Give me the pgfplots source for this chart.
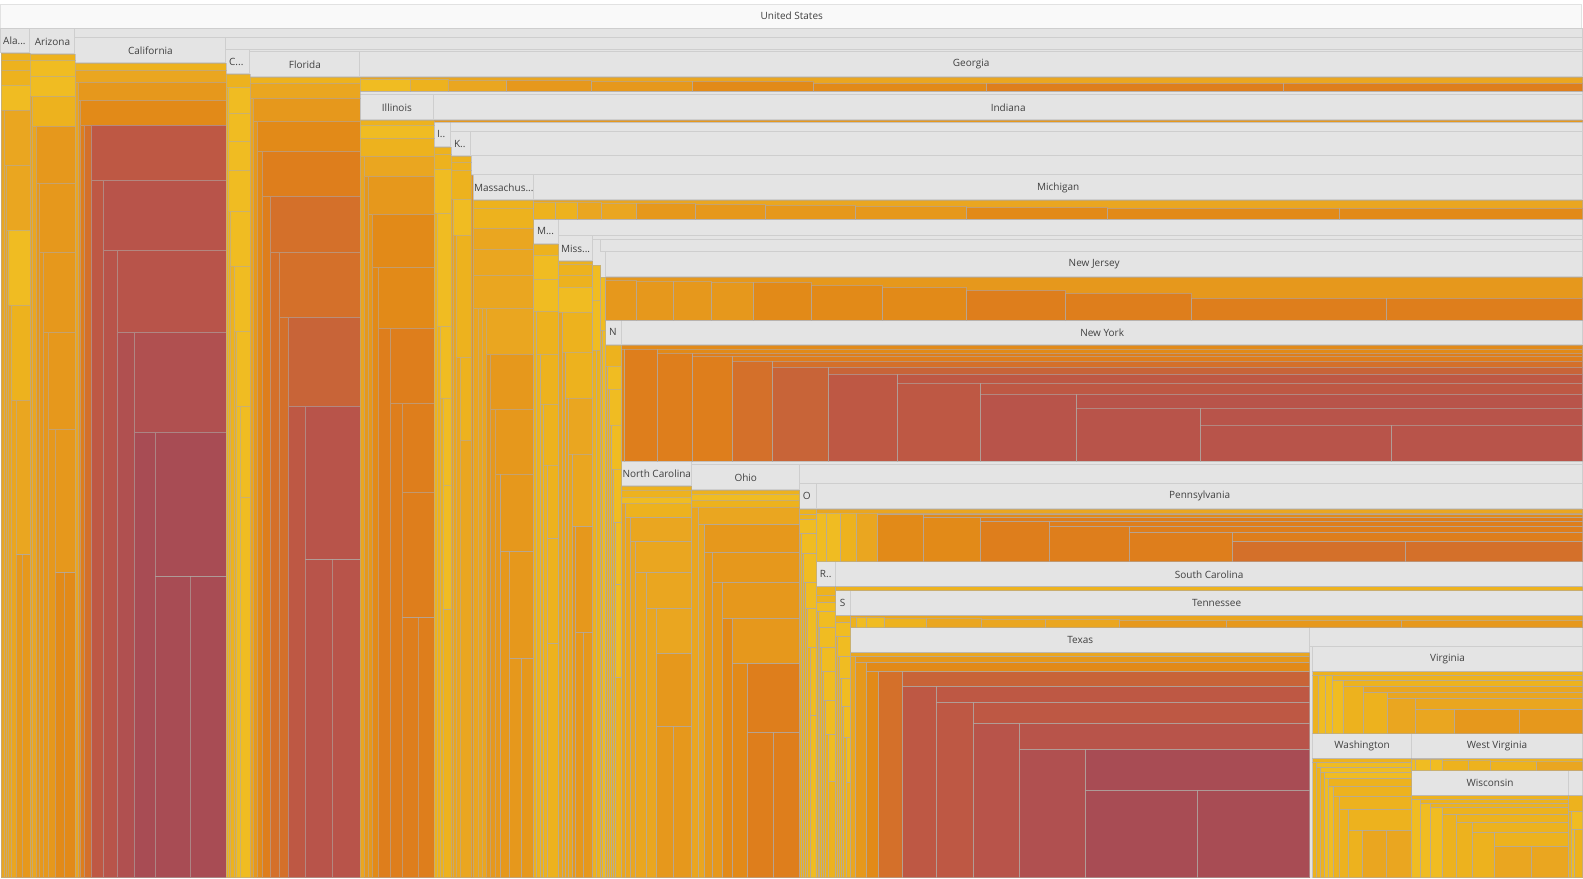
\documentclass[border=0pt]{standalone}
\usepackage{pgfplots}
\pgfplotsset{compat=1.18}
\usepackage{fontspec}
\setmainfont{Open Sans}
\definecolor{cya}{RGB}{240,188,34}
\definecolor{cyb}{RGB}{237,178,30}
\definecolor{cyc}{RGB}{234,166,32}
\definecolor{coa}{RGB}{230,152,28}
\definecolor{cob}{RGB}{226,138,24}
\definecolor{coc}{RGB}{222,126,28}
\definecolor{cra}{RGB}{212,112,42}
\definecolor{crb}{RGB}{200,100,56}
\definecolor{crc}{RGB}{190,88,68}
\definecolor{crd}{RGB}{184,84,74}
\definecolor{cre}{RGB}{176,80,80}
\definecolor{crf}{RGB}{168,76,84}
\definecolor{chd}{RGB}{228,228,228}
\definecolor{chl}{RGB}{206,206,206}
\definecolor{ctop}{RGB}{249,249,249}
\definecolor{ctx}{RGB}{64,64,64}
\definecolor{cedge}{RGB}{176,170,165}
\tikzset{lbl/.style={font=\fontsize{10}{12}\selectfont, text=ctx, inner sep=0pt}}
\pgfplotsset{
 edg/.style={draw=cedge, draw opacity=0.6, line width=0.7pt},
 ya/.style={edg, fill=cya}, yb/.style={edg, fill=cyb}, yc/.style={edg, fill=cyc},
 oa/.style={edg, fill=coa}, ob/.style={edg, fill=cob}, oc/.style={edg, fill=coc},
 ra/.style={edg, fill=cra}, rb/.style={edg, fill=crb}, rc/.style={edg, fill=crc},
 rd/.style={edg, fill=crd}, re/.style={edg, fill=cre}, rf/.style={edg, fill=crf},
 hd/.style={fill=chd, draw=chl, line width=1pt},
}
\begin{document}
\begin{tikzpicture}
\begin{axis}[width=1583pt, height=879pt, scale only axis, xmin=0, xmax=1583, ymin=0, ymax=879,
  y dir=reverse, hide axis, clip=false]
% frame of the picture
\addplot[draw=none, fill=none] coordinates {(0,0) (1583,0) (1583,879) (0,879)} --cycle;
% backgrounds
\addplot[fill=ctop, draw={rgb,255:red,226;green,226;blue,226}, line width=1pt] coordinates {(1,4) (1582,4) (1582,29) (1,29)} --cycle;
\addplot[fill=chd, draw=none] coordinates {(1,29) (1583,29) (1583,878) (1,878)} --cycle;
% headers and bands
\addplot[hd] coordinates {(1,29) (30,29) (30,53) (1,53)} --cycle;
\addplot[hd] coordinates {(30,29) (75,29) (75,54) (30,54)} --cycle;
\addplot[hd] coordinates {(75,29) (1583,29) (1583,38) (75,38)} --cycle;
\addplot[hd] coordinates {(75,38) (226,38) (226,63) (75,63)} --cycle;
\addplot[hd] coordinates {(226,38) (1583,38) (1583,49.5) (226,49.5)} --cycle;
\addplot[hd] coordinates {(226,49.5) (250,49.5) (250,74) (226,74)} --cycle;
\addplot[hd] coordinates {(250,49.5) (1583,49.5) (1583,52) (250,52)} --cycle;
\addplot[hd] coordinates {(250,52) (360,52) (360,77) (250,77)} --cycle;
\addplot[hd] coordinates {(360,52) (1583,52) (1583,77) (360,77)} --cycle;
\addplot[hd] coordinates {(360,91) (1583,91) (1583,95) (360,95)} --cycle;
\addplot[hd] coordinates {(360,95) (434,95) (434,120) (360,120)} --cycle;
\addplot[hd] coordinates {(434,95) (1583,95) (1583,120) (434,120)} --cycle;
\addplot[hd] coordinates {(434,122) (451,122) (451,147) (434,147)} --cycle;
\addplot[hd] coordinates {(451,122) (1583,122) (1583,131.5) (451,131.5)} --cycle;
\addplot[hd] coordinates {(451,131.5) (471,131.5) (471,156) (451,156)} --cycle;
\addplot[hd] coordinates {(471,131.5) (1583,131.5) (1583,156) (471,156)} --cycle;
\addplot[hd] coordinates {(471,156) (1583,156) (1583,175) (471,175)} --cycle;
\addplot[hd] coordinates {(473,175) (534,175) (534,200) (473,200)} --cycle;
\addplot[hd] coordinates {(534,175) (1583,175) (1583,200) (534,200)} --cycle;
\addplot[hd] coordinates {(534,219) (559,219) (559,244) (534,244)} --cycle;
\addplot[hd] coordinates {(559,219) (1583,219) (1583,236) (559,236)} --cycle;
\addplot[hd] coordinates {(559,236) (593,236) (593,261) (559,261)} --cycle;
\addplot[hd] coordinates {(593,236) (1583,236) (1583,240) (593,240)} --cycle;
\addplot[hd] coordinates {(601,240) (1583,240) (1583,252) (601,252)} --cycle;
\addplot[hd] coordinates {(606,252) (1583,252) (1583,277) (606,277)} --cycle;
\addplot[hd] coordinates {(606,320) (622,320) (622,345) (606,345)} --cycle;
\addplot[hd] coordinates {(622,320) (1583,320) (1583,345) (622,345)} --cycle;
\addplot[hd] coordinates {(622,461) (692,461) (692,486) (622,486)} --cycle;
\addplot[hd] coordinates {(692,461) (1583,461) (1583,465) (692,465)} --cycle;
\addplot[hd] coordinates {(692,465) (800,465) (800,490) (692,490)} --cycle;
\addplot[hd] coordinates {(800,465) (1583,465) (1583,484) (800,484)} --cycle;
\addplot[hd] coordinates {(800,484) (817,484) (817,509) (800,509)} --cycle;
\addplot[hd] coordinates {(817,484) (1583,484) (1583,509) (817,509)} --cycle;
\addplot[hd] coordinates {(817,562) (836,562) (836,587) (817,587)} --cycle;
\addplot[hd] coordinates {(836,562) (1583,562) (1583,587) (836,587)} --cycle;
\addplot[hd] coordinates {(836,591) (851,591) (851,616) (836,616)} --cycle;
\addplot[hd] coordinates {(851,591) (1583,591) (1583,616) (851,616)} --cycle;
\addplot[hd] coordinates {(851,628) (1310,628) (1310,653) (851,653)} --cycle;
\addplot[hd] coordinates {(1310,628) (1583,628) (1583,647) (1310,647)} --cycle;
\addplot[hd] coordinates {(1313,647) (1583,647) (1583,672) (1313,672)} --cycle;
\addplot[hd] coordinates {(1313,734) (1412,734) (1412,759) (1313,759)} --cycle;
\addplot[hd] coordinates {(1412,734) (1583,734) (1583,759) (1412,759)} --cycle;
\addplot[hd] coordinates {(1412,771) (1569,771) (1569,796) (1412,796)} --cycle;
\addplot[hd] coordinates {(1569,771) (1583,771) (1583,796) (1569,796)} --cycle;
% Alabama
\addplot[yb] coordinates {(1,53) (30,53) (30,60) (1,60)} --cycle;
\addplot[yb] coordinates {(1,60) (30,60) (30,70) (1,70)} --cycle;
\addplot[yb] coordinates {(1,70) (30,70) (30,85) (1,85)} --cycle;
\addplot[ya] coordinates {(1,85) (30,85) (30,110) (1,110)} --cycle;
\addplot[yc] coordinates {(1,110) (4,110) (4,878) (1,878)} --cycle;
\addplot[yc] coordinates {(4,110) (30,110) (30,165) (4,165)} --cycle;
\addplot[yc] coordinates {(4,165) (6,165) (6,878) (4,878)} --cycle;
\addplot[yc] coordinates {(6,165) (30,165) (30,230) (6,230)} --cycle;
\addplot[yc] coordinates {(6,230) (8,230) (8,878) (6,878)} --cycle;
\addplot[ya] coordinates {(8,230) (30,230) (30,305) (8,305)} --cycle;
\addplot[yc] coordinates {(8,305) (11,305) (11,878) (8,878)} --cycle;
\addplot[yb] coordinates {(11,305) (30,305) (30,400) (11,400)} --cycle;
\addplot[yc] coordinates {(11,400) (16,400) (16,878) (11,878)} --cycle;
\addplot[yc] coordinates {(16,400) (30,400) (30,555) (16,555)} --cycle;
\addplot[oa] coordinates {(16,555) (22,555) (22,878) (16,878)} --cycle;
\addplot[oa] coordinates {(22,555) (30,555) (30,878) (22,878)} --cycle;
% Arizona
\addplot[yb] coordinates {(30,54) (75,54) (75,60) (30,60)} --cycle;
\addplot[ya] coordinates {(30,60) (75,60) (75,76) (30,76)} --cycle;
\addplot[ya] coordinates {(30,76) (75,76) (75,96) (30,96)} --cycle;
\addplot[yc] coordinates {(30,96) (32,96) (32,878) (30,878)} --cycle;
\addplot[yb] coordinates {(32,96) (75,96) (75,126) (32,126)} --cycle;
\addplot[yc] coordinates {(32,126) (36,126) (36,878) (32,878)} --cycle;
\addplot[oa] coordinates {(36,126) (75,126) (75,183) (36,183)} --cycle;
\addplot[oa] coordinates {(36,183) (39,183) (39,878) (36,878)} --cycle;
\addplot[oa] coordinates {(39,183) (75,183) (75,252) (39,252)} --cycle;
\addplot[oa] coordinates {(39,252) (43,252) (43,878) (39,878)} --cycle;
\addplot[oa] coordinates {(43,252) (75,252) (75,332) (43,332)} --cycle;
\addplot[oa] coordinates {(43,332) (48,332) (48,878) (43,878)} --cycle;
\addplot[oa] coordinates {(48,332) (75,332) (75,429) (48,429)} --cycle;
\addplot[oa] coordinates {(48,429) (55,429) (55,878) (48,878)} --cycle;
\addplot[oa] coordinates {(55,429) (75,429) (75,573) (55,573)} --cycle;
\addplot[ob] coordinates {(55,573) (64,573) (64,878) (55,878)} --cycle;
\addplot[ob] coordinates {(64,573) (75,573) (75,878) (64,878)} --cycle;
% California
\addplot[yb] coordinates {(75,63) (226,63) (226,70) (75,70)} --cycle;
\addplot[yc] coordinates {(75,70) (226,70) (226,82) (75,82)} --cycle;
\addplot[yc] coordinates {(75,82) (78,82) (78,878) (75,878)} --cycle;
\addplot[oa] coordinates {(78,82) (226,82) (226,100) (78,100)} --cycle;
\addplot[oa] coordinates {(78,100) (80,100) (80,878) (78,878)} --cycle;
\addplot[ob] coordinates {(80,100) (226,100) (226,125) (80,125)} --cycle;
\addplot[oc] coordinates {(80,125) (84,125) (84,878) (80,878)} --cycle;
\addplot[ra] coordinates {(84,125) (91,125) (91,878) (84,878)} --cycle;
\addplot[rc] coordinates {(91,125) (226,125) (226,180) (91,180)} --cycle;
\addplot[rc] coordinates {(91,180) (103,180) (103,878) (91,878)} --cycle;
\addplot[rd] coordinates {(103,180) (226,180) (226,250) (103,250)} --cycle;
\addplot[rd] coordinates {(103,250) (117,250) (117,878) (103,878)} --cycle;
\addplot[rd] coordinates {(117,250) (226,250) (226,332) (117,332)} --cycle;
\addplot[re] coordinates {(117,332) (134,332) (134,878) (117,878)} --cycle;
\addplot[re] coordinates {(134,332) (226,332) (226,432) (134,432)} --cycle;
\addplot[rf] coordinates {(134,432) (155,432) (155,878) (134,878)} --cycle;
\addplot[rf] coordinates {(155,432) (226,432) (226,577) (155,577)} --cycle;
\addplot[rf] coordinates {(155,577) (190,577) (190,878) (155,878)} --cycle;
\addplot[rf] coordinates {(190,577) (226,577) (226,878) (190,878)} --cycle;
% C...
\addplot[yb] coordinates {(226,74) (250,74) (250,87) (226,87)} --cycle;
\addplot[yb] coordinates {(226,87) (228,87) (228,878) (226,878)} --cycle;
\addplot[ya] coordinates {(228,87) (250,87) (250,113) (228,113)} --cycle;
\addplot[ya] coordinates {(228,113) (250,113) (250,141) (228,141)} --cycle;
\addplot[ya] coordinates {(228,141) (250,141) (250,170) (228,170)} --cycle;
\addplot[ya] coordinates {(228,170) (250,170) (250,211) (228,211)} --cycle;
\addplot[yb] coordinates {(228,211) (230,211) (230,878) (228,878)} --cycle;
\addplot[ya] coordinates {(230,211) (250,211) (250,266) (230,266)} --cycle;
\addplot[yb] coordinates {(230,266) (234,266) (234,878) (230,878)} --cycle;
\addplot[ya] coordinates {(234,266) (250,266) (250,331) (234,331)} --cycle;
\addplot[yb] coordinates {(234,331) (236,331) (236,878) (234,878)} --cycle;
\addplot[ya] coordinates {(236,331) (250,331) (250,406) (236,406)} --cycle;
\addplot[ya] coordinates {(236,406) (240,406) (240,878) (236,878)} --cycle;
\addplot[ya] coordinates {(240,406) (250,406) (250,497) (240,497)} --cycle;
\addplot[ya] coordinates {(240,497) (250,497) (250,878) (240,878)} --cycle;
% Florida
\addplot[yb] coordinates {(250,77) (360,77) (360,83) (250,83)} --cycle;
\addplot[yc] coordinates {(250,83) (360,83) (360,98) (250,98)} --cycle;
\addplot[yc] coordinates {(250,98) (253,98) (253,878) (250,878)} --cycle;
\addplot[oa] coordinates {(253,98) (360,98) (360,121) (253,121)} --cycle;
\addplot[oa] coordinates {(253,121) (257,121) (257,878) (253,878)} --cycle;
\addplot[ob] coordinates {(257,121) (360,121) (360,151) (257,151)} --cycle;
\addplot[ob] coordinates {(257,151) (262,151) (262,878) (257,878)} --cycle;
\addplot[oc] coordinates {(262,151) (360,151) (360,196) (262,196)} --cycle;
\addplot[oc] coordinates {(262,196) (270,196) (270,878) (262,878)} --cycle;
\addplot[ra] coordinates {(270,196) (360,196) (360,252) (270,252)} --cycle;
\addplot[ra] coordinates {(270,252) (279,252) (279,878) (270,878)} --cycle;
\addplot[ra] coordinates {(279,252) (360,252) (360,317) (279,317)} --cycle;
\addplot[ra] coordinates {(279,317) (288,317) (288,878) (279,878)} --cycle;
\addplot[rb] coordinates {(288,317) (360,317) (360,406) (288,406)} --cycle;
\addplot[rc] coordinates {(288,406) (305,406) (305,878) (288,878)} --cycle;
\addplot[rd] coordinates {(305,406) (360,406) (360,560) (305,560)} --cycle;
\addplot[rd] coordinates {(305,560) (332,560) (332,878) (305,878)} --cycle;
\addplot[rd] coordinates {(332,560) (360,560) (360,878) (332,878)} --cycle;
% Georgia
\addplot[yc] coordinates {(360,77) (1583,77) (1583,91) (360,91)} --cycle;
\addplot[ya] coordinates {(360,79) (410,79) (410,91) (360,91)} --cycle;
\addplot[yb] coordinates {(410,79) (448,79) (448,91) (410,91)} --cycle;
\addplot[yc] coordinates {(448,80) (507,80) (507,91) (448,91)} --cycle;
\addplot[oa] coordinates {(507,80) (592,80) (592,91) (507,91)} --cycle;
\addplot[oa] coordinates {(592,81) (693,81) (693,91) (592,91)} --cycle;
\addplot[ob] coordinates {(693,81) (814,81) (814,91) (693,91)} --cycle;
\addplot[ob] coordinates {(814,83) (987,83) (987,91) (814,91)} --cycle;
\addplot[oc] coordinates {(987,83) (1284,83) (1284,91) (987,91)} --cycle;
\addplot[oc] coordinates {(1284,83) (1583,83) (1583,91) (1284,91)} --cycle;
% Illinois
\addplot[yb] coordinates {(360,120) (434,120) (434,125) (360,125)} --cycle;
\addplot[ya] coordinates {(360,125) (434,125) (434,138) (360,138)} --cycle;
\addplot[yb] coordinates {(360,138) (434,138) (434,156) (360,156)} --cycle;
\addplot[yc] coordinates {(360,156) (364,156) (364,878) (360,878)} --cycle;
\addplot[yc] coordinates {(364,156) (434,156) (434,176) (364,176)} --cycle;
\addplot[oa] coordinates {(364,176) (368,176) (368,878) (364,878)} --cycle;
\addplot[oa] coordinates {(368,176) (434,176) (434,214) (368,214)} --cycle;
\addplot[oa] coordinates {(368,214) (372,214) (372,878) (368,878)} --cycle;
\addplot[ob] coordinates {(372,214) (434,214) (434,267) (372,267)} --cycle;
\addplot[ob] coordinates {(372,267) (378,267) (378,878) (372,878)} --cycle;
\addplot[ob] coordinates {(378,267) (434,267) (434,328) (378,328)} --cycle;
\addplot[oc] coordinates {(378,328) (390,328) (390,878) (378,878)} --cycle;
\addplot[oc] coordinates {(390,328) (434,328) (434,403) (390,403)} --cycle;
\addplot[oc] coordinates {(390,403) (402,403) (402,878) (390,878)} --cycle;
\addplot[oc] coordinates {(402,403) (434,403) (434,492) (402,492)} --cycle;
\addplot[oc] coordinates {(402,492) (434,492) (434,618) (402,618)} --cycle;
\addplot[oc] coordinates {(402,618) (418,618) (418,878) (402,878)} --cycle;
\addplot[oc] coordinates {(418,618) (434,618) (434,878) (418,878)} --cycle;
% Indiana
\addplot[oa] coordinates {(434,120) (1583,120) (1583,122) (434,122)} --cycle;
% I..
\addplot[yb] coordinates {(434,147) (451,147) (451,154) (434,154)} --cycle;
\addplot[yb] coordinates {(434,154) (451,154) (451,169) (434,169)} --cycle;
\addplot[ya] coordinates {(434,169) (451,169) (451,213) (434,213)} --cycle;
\addplot[yb] coordinates {(434,213) (437,213) (437,878) (434,878)} --cycle;
\addplot[ya] coordinates {(437,213) (451,213) (451,326) (437,326)} --cycle;
\addplot[yb] coordinates {(437,326) (440,326) (440,878) (437,878)} --cycle;
\addplot[ya] coordinates {(440,326) (451,326) (451,398) (440,398)} --cycle;
\addplot[yb] coordinates {(440,398) (443,398) (443,878) (440,878)} --cycle;
\addplot[ya] coordinates {(443,398) (451,398) (451,485) (443,485)} --cycle;
\addplot[ya] coordinates {(443,485) (451,485) (451,610) (443,610)} --cycle;
\addplot[yb] coordinates {(443,610) (451,610) (451,878) (443,878)} --cycle;
% K..
\addplot[yb] coordinates {(451,156) (471,156) (471,162) (451,162)} --cycle;
\addplot[yb] coordinates {(451,162) (471,162) (471,170) (451,170)} --cycle;
\addplot[yb] coordinates {(451,170) (471,170) (471,199) (451,199)} --cycle;
\addplot[yc] coordinates {(451,199) (453,199) (453,878) (451,878)} --cycle;
\addplot[ya] coordinates {(453,199) (471,199) (471,235) (453,235)} --cycle;
\addplot[yc] coordinates {(453,235) (456,235) (456,878) (453,878)} --cycle;
\addplot[yb] coordinates {(456,235) (471,235) (471,357) (456,357)} --cycle;
\addplot[yc] coordinates {(456,357) (460,357) (460,878) (456,878)} --cycle;
\addplot[yb] coordinates {(460,357) (471,357) (471,440) (460,440)} --cycle;
\addplot[yc] coordinates {(460,440) (471,440) (471,878) (460,878)} --cycle;
\addplot[oa] coordinates {(471,175) (473,175) (473,878) (471,878)} --cycle;
% Massachusetts
\addplot[yb] coordinates {(473,200) (534,200) (534,208) (473,208)} --cycle;
\addplot[yb] coordinates {(473,208) (534,208) (534,228) (473,228)} --cycle;
\addplot[yc] coordinates {(473,228) (534,228) (534,249) (473,249)} --cycle;
\addplot[yc] coordinates {(473,249) (534,249) (534,275) (473,275)} --cycle;
\addplot[yc] coordinates {(473,275) (534,275) (534,308) (473,308)} --cycle;
\addplot[yc] coordinates {(473,308) (478,308) (478,878) (473,878)} --cycle;
\addplot[yc] coordinates {(478,308) (482,308) (482,878) (478,878)} --cycle;
\addplot[yc] coordinates {(482,308) (486,308) (486,878) (482,878)} --cycle;
\addplot[yc] coordinates {(486,308) (534,308) (534,354) (486,354)} --cycle;
\addplot[oa] coordinates {(486,354) (490,354) (490,878) (486,878)} --cycle;
\addplot[oa] coordinates {(490,354) (534,354) (534,409) (490,409)} --cycle;
\addplot[oa] coordinates {(490,409) (495,409) (495,878) (490,878)} --cycle;
\addplot[oa] coordinates {(495,409) (534,409) (534,474) (495,474)} --cycle;
\addplot[oa] coordinates {(495,474) (501,474) (501,878) (495,878)} --cycle;
\addplot[oa] coordinates {(501,474) (534,474) (534,552) (501,552)} --cycle;
\addplot[oa] coordinates {(501,552) (510,552) (510,878) (501,878)} --cycle;
\addplot[oa] coordinates {(510,552) (534,552) (534,659) (510,659)} --cycle;
\addplot[oa] coordinates {(510,659) (522,659) (522,878) (510,878)} --cycle;
\addplot[oa] coordinates {(522,659) (534,659) (534,878) (522,878)} --cycle;
% Michigan
\addplot[yc] coordinates {(534,200) (1583,200) (1583,219) (534,219)} --cycle;
\addplot[yb] coordinates {(534,202) (556,202) (556,219) (534,219)} --cycle;
\addplot[yb] coordinates {(556,202) (578,202) (578,219) (556,219)} --cycle;
\addplot[yc] coordinates {(578,202) (602,202) (602,219) (578,219)} --cycle;
\addplot[yc] coordinates {(602,203) (637,203) (637,219) (602,219)} --cycle;
\addplot[oa] coordinates {(637,203) (696,203) (696,219) (637,219)} --cycle;
\addplot[oa] coordinates {(696,204) (766,204) (766,219) (696,219)} --cycle;
\addplot[oa] coordinates {(766,205) (856,205) (856,219) (766,219)} --cycle;
\addplot[oa] coordinates {(856,206) (967,206) (967,219) (856,219)} --cycle;
\addplot[ob] coordinates {(967,207) (1108,207) (1108,219) (967,219)} --cycle;
\addplot[ob] coordinates {(1108,208) (1340,208) (1340,219) (1108,219)} --cycle;
\addplot[ob] coordinates {(1340,208) (1583,208) (1583,219) (1340,219)} --cycle;
% M...
\addplot[yb] coordinates {(534,244) (559,244) (559,255) (534,255)} --cycle;
\addplot[ya] coordinates {(534,255) (559,255) (559,279) (534,279)} --cycle;
\addplot[ya] coordinates {(534,279) (559,279) (559,311) (534,311)} --cycle;
\addplot[yb] coordinates {(534,311) (537,311) (537,878) (534,878)} --cycle;
\addplot[yb] coordinates {(537,311) (559,311) (559,354) (537,354)} --cycle;
\addplot[yb] coordinates {(537,354) (541,354) (541,878) (537,878)} --cycle;
\addplot[yb] coordinates {(541,354) (559,354) (559,404) (541,404)} --cycle;
\addplot[yb] coordinates {(541,404) (544,404) (544,878) (541,878)} --cycle;
\addplot[yb] coordinates {(544,404) (559,404) (559,465) (544,465)} --cycle;
\addplot[yb] coordinates {(544,465) (548,465) (548,878) (544,878)} --cycle;
\addplot[yb] coordinates {(548,465) (559,465) (559,539) (548,539)} --cycle;
\addplot[yb] coordinates {(548,539) (559,539) (559,644) (548,644)} --cycle;
\addplot[yb] coordinates {(548,644) (559,644) (559,878) (548,878)} --cycle;
% Mississippi
\addplot[yb] coordinates {(559,261) (593,261) (593,264) (559,264)} --cycle;
\addplot[yb] coordinates {(559,264) (593,264) (593,275) (559,275)} --cycle;
\addplot[yb] coordinates {(559,275) (593,275) (593,287) (559,287)} --cycle;
\addplot[ya] coordinates {(559,287) (593,287) (593,312) (559,312)} --cycle;
\addplot[yc] coordinates {(559,312) (563,312) (563,878) (559,878)} --cycle;
\addplot[yb] coordinates {(563,312) (593,312) (593,352) (563,352)} --cycle;
\addplot[yc] coordinates {(563,352) (566,352) (566,878) (563,878)} --cycle;
\addplot[yb] coordinates {(566,352) (593,352) (593,398) (566,398)} --cycle;
\addplot[yc] coordinates {(566,398) (569,398) (569,878) (566,878)} --cycle;
\addplot[yc] coordinates {(569,398) (593,398) (593,454) (569,454)} --cycle;
\addplot[yc] coordinates {(569,454) (573,454) (573,878) (569,878)} --cycle;
\addplot[yc] coordinates {(573,454) (593,454) (593,527) (573,527)} --cycle;
\addplot[oa] coordinates {(573,527) (576,527) (576,878) (573,878)} --cycle;
\addplot[oa] coordinates {(576,527) (593,527) (593,633) (576,633)} --cycle;
\addplot[oa] coordinates {(576,633) (584,633) (584,878) (576,878)} --cycle;
\addplot[oa] coordinates {(584,633) (593,633) (593,878) (584,878)} --cycle;
% small states
\addplot[ya] coordinates {(593,265) (601,265) (601,300) (593,300)} --cycle;
\addplot[ya] coordinates {(593,300) (601,300) (601,350) (593,350)} --cycle;
\addplot[yb] coordinates {(593,350) (597,350) (597,878) (593,878)} --cycle;
\addplot[yb] coordinates {(597,350) (601,350) (601,878) (597,878)} --cycle;
\addplot[ya] coordinates {(601,277) (606,277) (606,330) (601,330)} --cycle;
\addplot[yb] coordinates {(601,330) (603,330) (603,878) (601,878)} --cycle;
\addplot[ya] coordinates {(603,330) (606,330) (606,878) (603,878)} --cycle;
% New Jersey
\addplot[oa] coordinates {(606,277) (1583,277) (1583,320) (606,320)} --cycle;
\addplot[oa] coordinates {(606,280) (637,280) (637,320) (606,320)} --cycle;
\addplot[oa] coordinates {(637,281) (674,281) (674,320) (637,320)} --cycle;
\addplot[oa] coordinates {(674,281) (712,281) (712,320) (674,320)} --cycle;
\addplot[oa] coordinates {(712,282) (754,282) (754,320) (712,320)} --cycle;
\addplot[ob] coordinates {(754,282) (812,282) (812,320) (754,320)} --cycle;
\addplot[ob] coordinates {(812,285) (883,285) (883,320) (812,320)} --cycle;
\addplot[ob] coordinates {(883,287) (967,287) (967,320) (883,320)} --cycle;
\addplot[oc] coordinates {(967,290) (1066,290) (1066,320) (967,320)} --cycle;
\addplot[oc] coordinates {(1066,293) (1192,293) (1192,320) (1066,320)} --cycle;
\addplot[oc] coordinates {(1192,298) (1387,298) (1387,320) (1192,320)} --cycle;
\addplot[oc] coordinates {(1387,298) (1583,298) (1583,320) (1387,320)} --cycle;
% N
\addplot[yb] coordinates {(606,345) (622,345) (622,366) (606,366)} --cycle;
\addplot[yb] coordinates {(606,366) (608,366) (608,878) (606,878)} --cycle;
\addplot[ya] coordinates {(608,366) (622,366) (622,389) (608,389)} --cycle;
\addplot[yb] coordinates {(608,389) (610,389) (610,878) (608,878)} --cycle;
\addplot[ya] coordinates {(610,389) (622,389) (622,425) (610,425)} --cycle;
\addplot[yb] coordinates {(610,425) (612,425) (612,878) (610,878)} --cycle;
\addplot[ya] coordinates {(612,425) (622,425) (622,469) (612,469)} --cycle;
\addplot[yb] coordinates {(612,469) (614,469) (614,878) (612,878)} --cycle;
\addplot[ya] coordinates {(614,469) (622,469) (622,523) (614,523)} --cycle;
\addplot[yb] coordinates {(614,523) (616,523) (616,878) (614,878)} --cycle;
\addplot[ya] coordinates {(616,523) (622,523) (622,585) (616,585)} --cycle;
\addplot[ya] coordinates {(616,585) (622,585) (622,678) (616,678)} --cycle;
\addplot[yb] coordinates {(616,678) (622,678) (622,878) (616,878)} --cycle;
% New York
\addplot[ob] coordinates {(622,345) (1583,345) (1583,349) (622,349)} --cycle;
\addplot[ob] coordinates {(622,349) (625,349) (625,461) (622,461)} --cycle;
\addplot[oc] coordinates {(625,349) (658,349) (658,461) (625,461)} --cycle;
\addplot[ob] coordinates {(658,349) (1583,349) (1583,353) (658,353)} --cycle;
\addplot[oc] coordinates {(658,353) (693,353) (693,461) (658,461)} --cycle;
\addplot[oc] coordinates {(693,353) (1583,353) (1583,356) (693,356)} --cycle;
\addplot[oc] coordinates {(693,356) (733,356) (733,461) (693,461)} --cycle;
\addplot[oc] coordinates {(733,356) (1583,356) (1583,361) (733,361)} --cycle;
\addplot[ra] coordinates {(733,361) (773,361) (773,461) (733,461)} --cycle;
\addplot[ra] coordinates {(773,361) (1583,361) (1583,367) (773,367)} --cycle;
\addplot[rb] coordinates {(773,367) (829,367) (829,461) (773,461)} --cycle;
\addplot[rb] coordinates {(829,367) (1583,367) (1583,374) (829,374)} --cycle;
\addplot[rc] coordinates {(829,374) (898,374) (898,461) (829,461)} --cycle;
\addplot[rc] coordinates {(898,374) (1583,374) (1583,383) (898,383)} --cycle;
\addplot[rc] coordinates {(898,383) (981,383) (981,461) (898,461)} --cycle;
\addplot[rc] coordinates {(981,383) (1583,383) (1583,394) (981,394)} --cycle;
\addplot[rd] coordinates {(981,394) (1077,394) (1077,461) (981,461)} --cycle;
\addplot[rd] coordinates {(1077,394) (1583,394) (1583,408) (1077,408)} --cycle;
\addplot[rd] coordinates {(1077,408) (1201,408) (1201,461) (1077,461)} --cycle;
\addplot[rd] coordinates {(1201,408) (1583,408) (1583,425) (1201,425)} --cycle;
\addplot[rd] coordinates {(1201,425) (1392,425) (1392,461) (1201,461)} --cycle;
\addplot[rd] coordinates {(1392,425) (1583,425) (1583,461) (1392,461)} --cycle;
% North Carolina
\addplot[yb] coordinates {(622,486) (692,486) (692,490) (622,490)} --cycle;
\addplot[yb] coordinates {(622,490) (692,490) (692,497) (622,497)} --cycle;
\addplot[ya] coordinates {(622,497) (692,497) (692,503) (622,503)} --cycle;
\addplot[yc] coordinates {(622,503) (626,503) (626,878) (622,878)} --cycle;
\addplot[yb] coordinates {(626,503) (692,503) (692,518) (626,518)} --cycle;
\addplot[yc] coordinates {(626,518) (631,518) (631,878) (626,878)} --cycle;
\addplot[yc] coordinates {(631,518) (692,518) (692,542) (631,542)} --cycle;
\addplot[yc] coordinates {(631,542) (636,542) (636,878) (631,878)} --cycle;
\addplot[yc] coordinates {(636,542) (692,542) (692,573) (636,573)} --cycle;
\addplot[yc] coordinates {(636,573) (647,573) (647,878) (636,878)} --cycle;
\addplot[yc] coordinates {(647,573) (692,573) (692,609) (647,609)} --cycle;
\addplot[yc] coordinates {(647,609) (657,609) (657,878) (647,878)} --cycle;
\addplot[yc] coordinates {(657,609) (692,609) (692,654) (657,654)} --cycle;
\addplot[oa] coordinates {(657,654) (692,654) (692,727) (657,727)} --cycle;
\addplot[oa] coordinates {(657,727) (674,727) (674,878) (657,878)} --cycle;
\addplot[oa] coordinates {(674,727) (692,727) (692,878) (674,878)} --cycle;
% Ohio
\addplot[yb] coordinates {(692,490) (800,490) (800,494) (692,494)} --cycle;
\addplot[ya] coordinates {(692,494) (800,494) (800,500) (692,500)} --cycle;
\addplot[yb] coordinates {(692,500) (800,500) (800,507) (692,507)} --cycle;
\addplot[yc] coordinates {(692,507) (699,507) (699,878) (692,878)} --cycle;
\addplot[yc] coordinates {(699,507) (800,507) (800,525) (699,525)} --cycle;
\addplot[yc] coordinates {(699,525) (705,525) (705,878) (699,878)} --cycle;
\addplot[oa] coordinates {(705,525) (800,525) (800,553) (705,553)} --cycle;
\addplot[oa] coordinates {(705,553) (713,553) (713,878) (705,878)} --cycle;
\addplot[oa] coordinates {(713,553) (800,553) (800,583) (713,583)} --cycle;
\addplot[oa] coordinates {(713,583) (723,583) (723,878) (713,878)} --cycle;
\addplot[oa] coordinates {(723,583) (800,583) (800,619) (723,619)} --cycle;
\addplot[ob] coordinates {(723,619) (733,619) (733,878) (723,878)} --cycle;
\addplot[oa] coordinates {(733,619) (800,619) (800,664) (733,664)} --cycle;
\addplot[ob] coordinates {(733,664) (748,664) (748,878) (733,878)} --cycle;
\addplot[oc] coordinates {(748,664) (800,664) (800,733) (748,733)} --cycle;
\addplot[oc] coordinates {(748,733) (774,733) (774,878) (748,878)} --cycle;
\addplot[oc] coordinates {(774,733) (800,733) (800,878) (774,878)} --cycle;
% O
\addplot[yb] coordinates {(800,509) (817,509) (817,515) (800,515)} --cycle;
\addplot[yb] coordinates {(800,515) (817,515) (817,520) (800,520)} --cycle;
\addplot[ya] coordinates {(800,520) (817,520) (817,534) (800,534)} --cycle;
\addplot[yb] coordinates {(800,534) (802,534) (802,878) (800,878)} --cycle;
\addplot[ya] coordinates {(802,534) (817,534) (817,554) (802,554)} --cycle;
\addplot[yb] coordinates {(802,554) (804,554) (804,878) (802,878)} --cycle;
\addplot[ya] coordinates {(804,554) (817,554) (817,583) (804,583)} --cycle;
\addplot[yb] coordinates {(804,583) (806,583) (806,878) (804,878)} --cycle;
\addplot[ya] coordinates {(806,583) (817,583) (817,609) (806,609)} --cycle;
\addplot[yb] coordinates {(806,609) (808,609) (808,878) (806,878)} --cycle;
\addplot[ya] coordinates {(808,609) (817,609) (817,648) (808,648)} --cycle;
\addplot[yb] coordinates {(808,648) (811,648) (811,878) (808,878)} --cycle;
\addplot[ya] coordinates {(811,648) (817,648) (817,716) (811,716)} --cycle;
\addplot[ya] coordinates {(811,716) (817,716) (817,878) (811,878)} --cycle;
% Pennsylvania
\addplot[yc] coordinates {(817,509) (1583,509) (1583,513) (817,513)} --cycle;
\addplot[ya] coordinates {(817,513) (827,513) (827,562) (817,562)} --cycle;
\addplot[ya] coordinates {(827,513) (841,513) (841,562) (827,562)} --cycle;
\addplot[yb] coordinates {(841,513) (857,513) (857,562) (841,562)} --cycle;
\addplot[yc] coordinates {(857,513) (878,513) (878,562) (857,562)} --cycle;
\addplot[oa] coordinates {(878,513) (1583,513) (1583,515) (878,515)} --cycle;
\addplot[ob] coordinates {(878,515) (924,515) (924,562) (878,562)} --cycle;
\addplot[ob] coordinates {(924,515) (1583,515) (1583,518) (924,518)} --cycle;
\addplot[ob] coordinates {(924,518) (981,518) (981,562) (924,562)} --cycle;
\addplot[oc] coordinates {(981,518) (1583,518) (1583,522) (981,522)} --cycle;
\addplot[oc] coordinates {(981,522) (1050,522) (1050,562) (981,562)} --cycle;
\addplot[oc] coordinates {(1050,522) (1583,522) (1583,527) (1050,527)} --cycle;
\addplot[oc] coordinates {(1050,527) (1130,527) (1130,562) (1050,562)} --cycle;
\addplot[oc] coordinates {(1130,527) (1583,527) (1583,533) (1130,533)} --cycle;
\addplot[oc] coordinates {(1130,533) (1233,533) (1233,562) (1130,562)} --cycle;
\addplot[oc] coordinates {(1233,533) (1583,533) (1583,542) (1233,542)} --cycle;
\addplot[ra] coordinates {(1233,542) (1406,542) (1406,562) (1233,562)} --cycle;
\addplot[ra] coordinates {(1406,542) (1583,542) (1583,562) (1406,562)} --cycle;
% R..
\addplot[yb] coordinates {(817,587) (836,587) (836,596) (817,596)} --cycle;
\addplot[yb] coordinates {(817,596) (836,596) (836,603) (817,603)} --cycle;
\addplot[ya] coordinates {(817,603) (836,603) (836,612) (817,612)} --cycle;
\addplot[yb] coordinates {(817,612) (819,612) (819,878) (817,878)} --cycle;
\addplot[ya] coordinates {(819,612) (836,612) (836,628) (819,628)} --cycle;
\addplot[yb] coordinates {(819,628) (820,628) (820,878) (819,878)} --cycle;
\addplot[ya] coordinates {(820,628) (836,628) (836,648) (820,648)} --cycle;
\addplot[yb] coordinates {(820,648) (822,648) (822,878) (820,878)} --cycle;
\addplot[ya] coordinates {(822,648) (836,648) (836,672) (822,672)} --cycle;
\addplot[yb] coordinates {(822,672) (824,672) (824,878) (822,878)} --cycle;
\addplot[ya] coordinates {(824,672) (836,672) (836,701) (824,701)} --cycle;
\addplot[yb] coordinates {(824,701) (826,701) (826,878) (824,878)} --cycle;
\addplot[ya] coordinates {(826,701) (836,701) (836,735) (826,735)} --cycle;
\addplot[yb] coordinates {(826,735) (829,735) (829,878) (826,878)} --cycle;
\addplot[ya] coordinates {(829,735) (836,735) (836,782) (829,782)} --cycle;
\addplot[yb] coordinates {(829,782) (836,782) (836,878) (829,878)} --cycle;
% South Carolina
\addplot[yb] coordinates {(836,587) (1583,587) (1583,591) (836,591)} --cycle;
% S
\addplot[yb] coordinates {(836,616) (851,616) (851,623) (836,623)} --cycle;
\addplot[ya] coordinates {(836,623) (851,623) (851,637) (836,637)} --cycle;
\addplot[yb] coordinates {(836,637) (838,637) (838,878) (836,878)} --cycle;
\addplot[ya] coordinates {(838,637) (851,637) (851,657) (838,657)} --cycle;
\addplot[yb] coordinates {(838,657) (840,657) (840,878) (838,878)} --cycle;
\addplot[ya] coordinates {(840,657) (851,657) (851,679) (840,679)} --cycle;
\addplot[yb] coordinates {(840,679) (842,679) (842,878) (840,878)} --cycle;
\addplot[ya] coordinates {(842,679) (851,679) (851,707) (842,707)} --cycle;
\addplot[yb] coordinates {(842,707) (844,707) (844,878) (842,878)} --cycle;
\addplot[ya] coordinates {(844,707) (851,707) (851,738) (844,738)} --cycle;
\addplot[yb] coordinates {(844,738) (847,738) (847,878) (844,878)} --cycle;
\addplot[ya] coordinates {(847,738) (851,738) (851,783) (847,783)} --cycle;
\addplot[yb] coordinates {(847,783) (851,783) (851,878) (847,878)} --cycle;
% Tennessee
\addplot[yc] coordinates {(851,616) (1583,616) (1583,628) (851,628)} --cycle;
\addplot[yb] coordinates {(851,618) (857,618) (857,628) (851,628)} --cycle;
\addplot[ya] coordinates {(857,618) (867,618) (867,628) (857,628)} --cycle;
\addplot[ya] coordinates {(867,618) (885,618) (885,628) (867,628)} --cycle;
\addplot[yb] coordinates {(885,619) (927,619) (927,628) (885,628)} --cycle;
\addplot[yc] coordinates {(927,619) (982,619) (982,628) (927,628)} --cycle;
\addplot[yc] coordinates {(982,620) (1046,620) (1046,628) (982,628)} --cycle;
\addplot[yc] coordinates {(1046,620) (1120,620) (1120,628) (1046,628)} --cycle;
\addplot[oa] coordinates {(1120,621) (1227,621) (1227,628) (1120,628)} --cycle;
\addplot[oa] coordinates {(1227,621) (1402,621) (1402,628) (1227,628)} --cycle;
\addplot[oa] coordinates {(1402,621) (1583,621) (1583,628) (1402,628)} --cycle;
% Texas
\addplot[yc] coordinates {(851,653) (1310,653) (1310,657) (851,657)} --cycle;
\addplot[yc] coordinates {(851,657) (856,657) (856,878) (851,878)} --cycle;
\addplot[oa] coordinates {(856,657) (1310,657) (1310,663) (856,663)} --cycle;
\addplot[oa] coordinates {(856,663) (867,663) (867,878) (856,878)} --cycle;
\addplot[ob] coordinates {(867,663) (1310,663) (1310,672) (867,672)} --cycle;
\addplot[ob] coordinates {(867,672) (879,672) (879,878) (867,878)} --cycle;
\addplot[ra] coordinates {(879,672) (903,672) (903,878) (879,878)} --cycle;
\addplot[rb] coordinates {(903,672) (1310,672) (1310,687) (903,687)} --cycle;
\addplot[rc] coordinates {(903,687) (937,687) (937,878) (903,878)} --cycle;
\addplot[rc] coordinates {(937,687) (1310,687) (1310,703) (937,703)} --cycle;
\addplot[rc] coordinates {(937,703) (974,703) (974,878) (937,878)} --cycle;
\addplot[rc] coordinates {(974,703) (1310,703) (1310,724) (974,724)} --cycle;
\addplot[rd] coordinates {(974,724) (1020,724) (1020,878) (974,878)} --cycle;
\addplot[rd] coordinates {(1020,724) (1310,724) (1310,750) (1020,750)} --cycle;
\addplot[re] coordinates {(1020,750) (1086,750) (1086,878) (1020,878)} --cycle;
\addplot[rf] coordinates {(1086,750) (1310,750) (1310,791) (1086,791)} --cycle;
\addplot[rf] coordinates {(1086,791) (1198,791) (1198,878) (1086,878)} --cycle;
\addplot[rf] coordinates {(1198,791) (1310,791) (1310,878) (1198,878)} --cycle;
% Virginia
\addplot[yb] coordinates {(1313,672) (1583,672) (1583,676) (1313,676)} --cycle;
\addplot[yb] coordinates {(1313,676) (1319,676) (1319,734) (1313,734)} --cycle;
\addplot[ya] coordinates {(1319,676) (1326,676) (1326,734) (1319,734)} --cycle;
\addplot[ya] coordinates {(1326,676) (1333,676) (1333,734) (1326,734)} --cycle;
\addplot[yb] coordinates {(1333,676) (1583,676) (1583,681) (1333,681)} --cycle;
\addplot[ya] coordinates {(1333,681) (1344,681) (1344,734) (1333,734)} --cycle;
\addplot[yb] coordinates {(1344,681) (1583,681) (1583,687) (1344,687)} --cycle;
\addplot[yb] coordinates {(1344,687) (1364,687) (1364,734) (1344,734)} --cycle;
\addplot[yc] coordinates {(1364,687) (1583,687) (1583,693) (1364,693)} --cycle;
\addplot[yb] coordinates {(1364,693) (1388,693) (1388,734) (1364,734)} --cycle;
\addplot[yc] coordinates {(1388,693) (1583,693) (1583,699) (1388,699)} --cycle;
\addplot[yc] coordinates {(1388,699) (1416,699) (1416,734) (1388,734)} --cycle;
\addplot[yc] coordinates {(1416,699) (1583,699) (1583,710) (1416,710)} --cycle;
\addplot[yc] coordinates {(1416,710) (1455,710) (1455,734) (1416,734)} --cycle;
\addplot[oa] coordinates {(1455,710) (1520,710) (1520,734) (1455,734)} --cycle;
\addplot[oa] coordinates {(1520,710) (1583,710) (1583,734) (1520,734)} --cycle;
% Washington
\addplot[yb] coordinates {(1313,759) (1412,759) (1412,763) (1313,763)} --cycle;
\addplot[yb] coordinates {(1313,763) (1317,763) (1317,878) (1313,878)} --cycle;
\addplot[ya] coordinates {(1317,763) (1412,763) (1412,768) (1317,768)} --cycle;
\addplot[yb] coordinates {(1317,768) (1321,768) (1321,878) (1317,878)} --cycle;
\addplot[ya] coordinates {(1321,768) (1412,768) (1412,773) (1321,773)} --cycle;
\addplot[yb] coordinates {(1321,773) (1325,773) (1325,878) (1321,878)} --cycle;
\addplot[ya] coordinates {(1325,773) (1412,773) (1412,779) (1325,779)} --cycle;
\addplot[ya] coordinates {(1325,779) (1329,779) (1329,878) (1325,878)} --cycle;
\addplot[yb] coordinates {(1329,779) (1412,779) (1412,787) (1329,787)} --cycle;
\addplot[ya] coordinates {(1329,787) (1334,787) (1334,878) (1329,878)} --cycle;
\addplot[yb] coordinates {(1334,787) (1412,787) (1412,797) (1334,797)} --cycle;
\addplot[yb] coordinates {(1334,797) (1340,797) (1340,878) (1334,878)} --cycle;
\addplot[yb] coordinates {(1340,797) (1412,797) (1412,810) (1340,810)} --cycle;
\addplot[yb] coordinates {(1340,810) (1349,810) (1349,878) (1340,878)} --cycle;
\addplot[yb] coordinates {(1349,810) (1412,810) (1412,831) (1349,831)} --cycle;
\addplot[yb] coordinates {(1349,831) (1363,831) (1363,878) (1349,878)} --cycle;
\addplot[yc] coordinates {(1363,831) (1387,831) (1387,878) (1363,878)} --cycle;
\addplot[yc] coordinates {(1387,831) (1412,831) (1412,878) (1387,878)} --cycle;
% West Virginia
\addplot[yb] coordinates {(1412,759) (1583,759) (1583,771) (1412,771)} --cycle;
\addplot[ya] coordinates {(1412,760) (1416,760) (1416,771) (1412,771)} --cycle;
\addplot[ya] coordinates {(1416,760) (1431,760) (1431,771) (1416,771)} --cycle;
\addplot[ya] coordinates {(1431,760) (1443,760) (1443,771) (1431,771)} --cycle;
\addplot[yb] coordinates {(1443,761) (1469,761) (1469,771) (1443,771)} --cycle;
\addplot[yb] coordinates {(1469,761) (1491,761) (1491,771) (1469,771)} --cycle;
\addplot[yb] coordinates {(1491,762) (1537,762) (1537,771) (1491,771)} --cycle;
\addplot[yc] coordinates {(1537,762) (1583,762) (1583,771) (1537,771)} --cycle;
% Wisconsin
\addplot[yb] coordinates {(1412,796) (1569,796) (1569,800) (1412,800)} --cycle;
\addplot[ya] coordinates {(1412,800) (1421,800) (1421,878) (1412,878)} --cycle;
\addplot[yb] coordinates {(1421,800) (1569,800) (1569,804) (1421,804)} --cycle;
\addplot[ya] coordinates {(1421,804) (1431,804) (1431,878) (1421,878)} --cycle;
\addplot[yb] coordinates {(1431,804) (1569,804) (1569,808) (1431,808)} --cycle;
\addplot[ya] coordinates {(1431,808) (1443,808) (1443,878) (1431,878)} --cycle;
\addplot[yb] coordinates {(1443,808) (1569,808) (1569,815) (1443,815)} --cycle;
\addplot[yb] coordinates {(1443,815) (1457,815) (1457,878) (1443,878)} --cycle;
\addplot[yb] coordinates {(1457,815) (1569,815) (1569,823) (1457,823)} --cycle;
\addplot[yb] coordinates {(1457,823) (1473,823) (1473,878) (1457,878)} --cycle;
\addplot[yb] coordinates {(1473,823) (1569,823) (1569,833) (1473,833)} --cycle;
\addplot[yb] coordinates {(1473,833) (1495,833) (1495,878) (1473,878)} --cycle;
\addplot[yb] coordinates {(1495,833) (1569,833) (1569,847) (1495,847)} --cycle;
\addplot[yc] coordinates {(1495,847) (1532,847) (1532,878) (1495,878)} --cycle;
\addplot[yc] coordinates {(1532,847) (1569,847) (1569,878) (1532,878)} --cycle;
% Wyoming
\addplot[yb] coordinates {(1569,796) (1583,796) (1583,812) (1569,812)} --cycle;
\addplot[yb] coordinates {(1569,812) (1572,812) (1572,878) (1569,878)} --cycle;
\addplot[ya] coordinates {(1572,812) (1583,812) (1583,830) (1572,830)} --cycle;
\addplot[ya] coordinates {(1572,830) (1575,830) (1575,878) (1572,878)} --cycle;
\addplot[yb] coordinates {(1575,830) (1583,830) (1583,878) (1575,878)} --cycle;
% labels
\node[lbl] at (axis cs:792,16) {United States};
\node[lbl, anchor=west] at (axis cs:3,41) {Ala...};
\node[lbl] at (axis cs:52.5,41.5) {Arizona};
\node[lbl] at (axis cs:150.5,50.5) {California};
\node[lbl, anchor=west] at (axis cs:229,62) {C...};
\node[lbl] at (axis cs:305,64.5) {Florida};
\node[lbl] at (axis cs:971.5,64.5) {Georgia};
\node[lbl] at (axis cs:397,107.5) {Illinois};
\node[lbl] at (axis cs:1008.5,107.5) {Indiana};
\node[lbl, anchor=west] at (axis cs:437,134.5) {I..};
\node[lbl, anchor=west] at (axis cs:454,144) {K..};
\node[lbl, anchor=west] at (axis cs:474,187.5) {Massachus...};
\node[lbl] at (axis cs:1058.5,187.5) {Michigan};
\node[lbl, anchor=west] at (axis cs:537,231.5) {M...};
\node[lbl, anchor=west] at (axis cs:561,248.5) {Miss...};
\node[lbl] at (axis cs:1094.5,264.5) {New Jersey};
\node[lbl, anchor=west] at (axis cs:609,332.5) {N};
\node[lbl] at (axis cs:1102.5,332.5) {New York};
\node[lbl] at (axis cs:657,473.5) {North Carolina};
\node[lbl] at (axis cs:746,477.5) {Ohio};
\node[lbl, anchor=west] at (axis cs:803,496.5) {O};
\node[lbl] at (axis cs:1200,496.5) {Pennsylvania};
\node[lbl, anchor=west] at (axis cs:820,574.5) {R..};
\node[lbl] at (axis cs:1209.5,574.5) {South Carolina};
\node[lbl, anchor=west] at (axis cs:840,603.5) {S};
\node[lbl] at (axis cs:1217,603.5) {Tennessee};
\node[lbl] at (axis cs:1080.5,640.5) {Texas};
\node[lbl] at (axis cs:1448,659.5) {Virginia};
\node[lbl] at (axis cs:1362.5,746.5) {Washington};
\node[lbl] at (axis cs:1497.5,746.5) {West Virginia};
\node[lbl] at (axis cs:1490.5,783.5) {Wisconsin};
\end{axis}
\end{tikzpicture}
\end{document}
